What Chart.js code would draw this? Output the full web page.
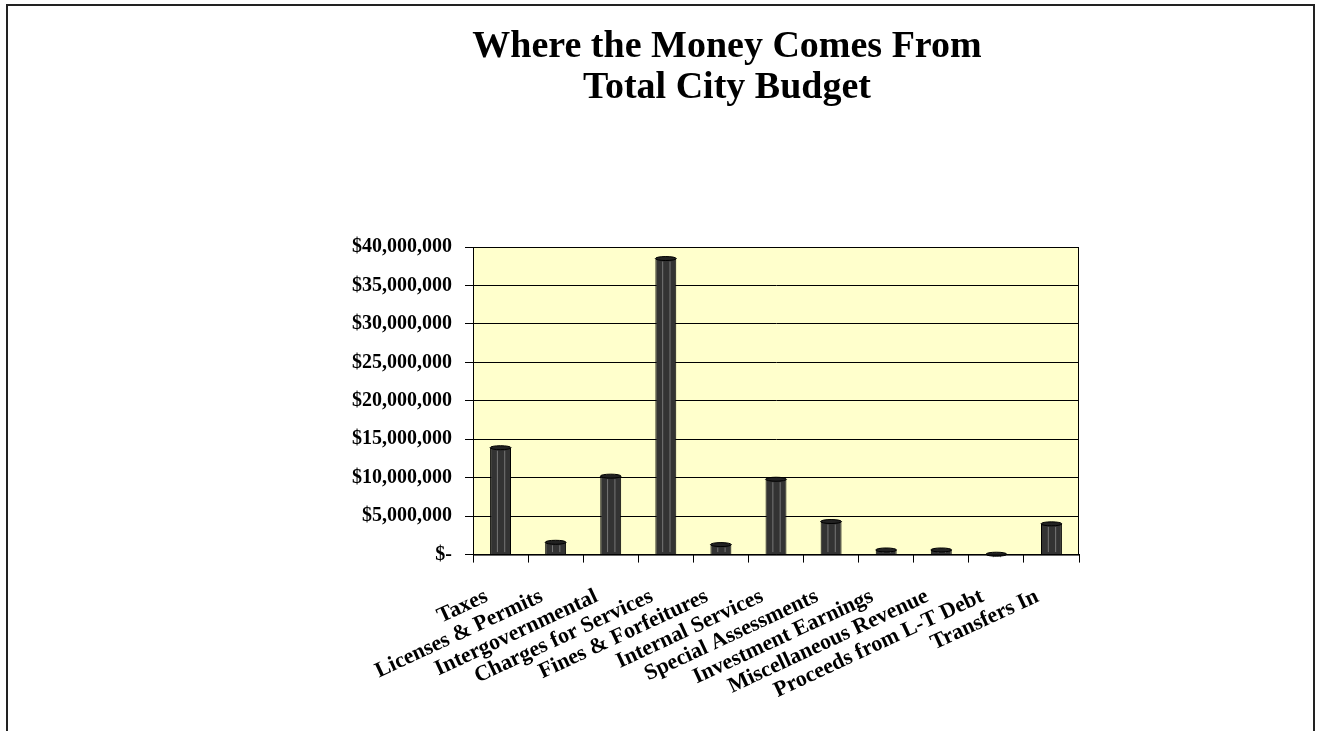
<!DOCTYPE html>
<html lang="en">
<head>
  <meta charset="UTF-8" />
  <title>Where the Money Comes From</title>
  <script src="https://cdn.jsdelivr.net/npm/chart.js"></script>
  <style>
    html, body { margin: 0; padding: 0; background: #fff; }
    .frame {
      position: absolute; left: 6px; top: 4px; width: 1309px; height: 760px;
      border: 2px solid #222; border-bottom: none; box-sizing: border-box;
    }
    .wrap { position: absolute; left: 0; top: 0; width: 1319px; height: 731px; }
    .titulo {
      position: absolute; left: 327px; top: 24px; width: 800px; margin: 0;
      text-align: center; color: #000;
      font: bold 38px/41px 'Liberation Serif', 'Times New Roman', serif;
    }
  </style>
</head>
<body>
  <div class="frame"></div>
  <div class="wrap"><canvas id="grafico" width="1319" height="731"></canvas></div>
  <h1 class="titulo" id="titulo"></h1>

  <script>
    const categorias = [
      "Taxes", "Licenses & Permits", "Intergovernmental", "Charges for Services",
      "Fines & Forfeitures", "Internal Services", "Special Assessments",
      "Investment Earnings", "Miscellaneous Revenue", "Proceeds from L-T Debt", "Transfers In"
    ];
    const montos = [
      13900000, 1600000, 10200000, 38500000, 1300000, 9800000,
      4300000, 600000, 600000, 50000, 4000000
    ];
    const tituloLineas = ["Where the Money Comes From", "Total City Budget"];
    const ejeMax = 40000000;
    const ejePaso = 5000000;

    const fuente = "'Liberation Serif', 'Times New Roman', serif";

    document.getElementById("titulo").innerHTML = tituloLineas.join("<br>");

    // fondo amarillo del area de graficos + marco
    const fondoPlugin = {
      id: "fondo",
      beforeDraw(chart) {
        const { ctx, chartArea: a } = chart;
        ctx.save();
        ctx.fillStyle = "#FFFFCC";
        ctx.fillRect(a.left, a.top, a.right - a.left, a.bottom - a.top);
        ctx.restore();
      },
      afterDraw(chart) {
        const { ctx, chartArea: a } = chart;
        ctx.save();
        ctx.strokeStyle = "#000";
        ctx.lineWidth = 1;
        ctx.strokeRect(a.left + 0.5, a.top + 0.5, a.right - a.left - 1, a.bottom - a.top);
        ctx.restore();
      }
    };

    // tapa superior y brillo para imitar las columnas 3D
    const tapaPlugin = {
      id: "tapa",
      afterDatasetsDraw(chart) {
        const { ctx } = chart;
        chart.getDatasetMeta(0).data.forEach((bar) => {
          const w = bar.width;
          const x = bar.x;
          const y = bar.y;
          ctx.save();
          ctx.strokeStyle = "#777";
          ctx.lineWidth = 1;
          ctx.beginPath();
          ctx.moveTo(x - w * 0.15, y + 3);
          ctx.lineTo(x - w * 0.15, bar.base - 2);
          ctx.moveTo(x + w * 0.2, y + 3);
          ctx.lineTo(x + w * 0.2, bar.base - 2);
          ctx.stroke();
          ctx.fillStyle = "#222";
          ctx.strokeStyle = "#000";
          ctx.beginPath();
          ctx.ellipse(x, y, w / 2, 2, 0, 0, Math.PI * 2);
          ctx.fill();
          ctx.stroke();
          ctx.restore();
        });
      }
    };

    new Chart(document.getElementById("grafico"), {
      type: "bar",
      data: {
        labels: categorias,
        datasets: [{
          data: montos,
          backgroundColor: "#333333",
          borderColor: "#000000",
          borderWidth: 1,
          barPercentage: 0.38,
          categoryPercentage: 1
        }]
      },
      options: {
        responsive: false,
        animation: false,
        layout: { padding: { left: 339, right: 240, top: 247, bottom: 6 } },
        plugins: {
          legend: { display: false },
          tooltip: { enabled: false },
          title: { display: false }
        },
        scales: {
          x: {
            grid: { drawOnChartArea: false, drawTicks: true, tickLength: 8, color: "#000" },
            border: { color: "#000", width: 1 },
            ticks: {
              color: "#000",
              minRotation: 25,
              maxRotation: 25,
              autoSkip: false,
              padding: 21,
              labelOffset: -14,
              font: { family: fuente, size: 22, weight: "bold" }
            }
          },
          y: {
            min: 0,
            max: ejeMax,
            grid: { color: "#000", lineWidth: 1, tickLength: 8 },
            border: { color: "#000", width: 1 },
            ticks: {
              stepSize: ejePaso,
              color: "#000",
              padding: 13,
              font: { family: fuente, size: 20, weight: "bold" },
              callback: (v) => v === 0 ? "$-" : "$" + v.toLocaleString("en-US")
            }
          }
        }
      },
      plugins: [fondoPlugin, tapaPlugin]
    });
  </script>
</body>
</html>
